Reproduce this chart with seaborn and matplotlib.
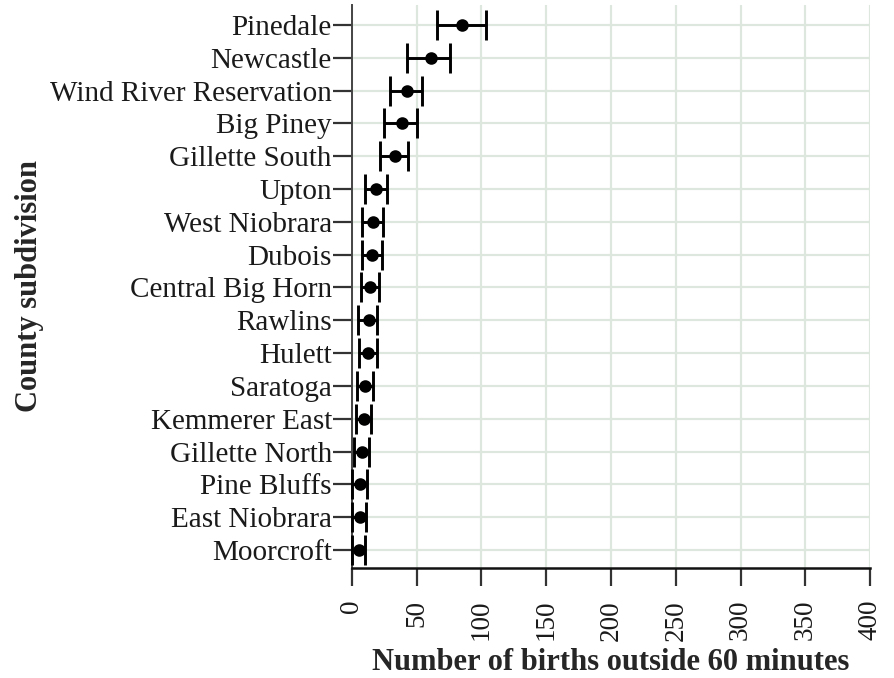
import matplotlib
matplotlib.use("Agg")
import matplotlib.pyplot as plt
import seaborn as sns
import pandas as pd

subdivisions = ["Pinedale", "Newcastle", "Wind River Reservation", "Big Piney",
                "Gillette South", "Upton", "West Niobrara", "Dubois",
                "Central Big Horn", "Rawlins", "Hulett", "Saratoga",
                "Kemmerer East", "Gillette North", "Pine Bluffs",
                "East Niobrara", "Moorcroft"]
estimate = [84.7, 60.7, 42.2, 38.9, 33.0, 18.5, 16.2, 15.4, 13.9, 12.9, 12.6,
            9.8, 9.3, 7.5, 6.2, 6.2, 5.7]
lower = [65.9, 42.5, 29.1, 24.7, 21.9, 10.0, 7.7, 7.7, 6.7, 4.6, 5.4,
         3.6, 3.1, 1.5, 0.0, 0.0, 0.0]
upper = [103.2, 75.7, 54.3, 50.0, 43.2, 26.8, 23.7, 22.9, 20.6, 19.1, 19.1,
         16.2, 14.9, 12.9, 11.3, 10.8, 9.8]
x_ticks = [0, 50, 100, 150, 200, 250, 300, 350, 400]

df = pd.DataFrame({"sub": subdivisions, "est": estimate, "lo": lower, "hi": upper})

sns.set_style("white")
plt.rcParams["font.family"] = ["Liberation Serif", "DejaVu Serif"]
plt.rcParams["text.color"] = "#1a1a1a"

fig = plt.figure(figsize=(8.95, 6.78), dpi=100)
ax = fig.add_axes([352 / 895, 1 - 568 / 678, 518 / 895, 563 / 678])

grid_c = "#dde7dd"
for xv in x_ticks:
    ax.axvline(xv, color=grid_c, lw=1.6, zorder=0)
for i in range(len(subdivisions)):
    ax.axhline(i, color=grid_c, lw=1.6, zorder=0)

ax.errorbar(df["est"], range(len(df)),
            xerr=[df["est"] - df["lo"], df["hi"] - df["est"]],
            fmt="none", ecolor="black", elinewidth=2.1, capsize=10.5,
            capthick=2.1, zorder=3, clip_on=False)
sns.pointplot(data=df, x="est", y="sub", order=subdivisions, orient="h",
              linestyle="none", errorbar=None, color="black", markers="o",
              markersize=7, ax=ax, zorder=4)

ax.set_xlim(0, 400)
ax.set_ylim(16.55, -0.61)
ax.set_xticks(x_ticks)
ax.set_xticklabels([str(v) for v in x_ticks], rotation=90, fontsize=19.5,
                   color="#1a1a1a")
ax.set_yticks(range(len(subdivisions)))
ax.set_yticklabels(subdivisions, fontsize=21, color="#1a1a1a")
ax.tick_params(axis="x", bottom=True, length=13, width=1.6, color="#333333",
               pad=10)
ax.tick_params(axis="y", left=True, length=14, width=1.6, color="#333333",
               pad=0.5)

for s in ["top", "right"]:
    ax.spines[s].set_visible(False)
ax.spines["left"].set_color("#444444")
ax.spines["left"].set_linewidth(1.4)
ax.spines["bottom"].set_color("#111111")
ax.spines["bottom"].set_linewidth(1.8)

ax.set_xlabel("Number of births outside 60 minutes", fontsize=22,
              fontweight="bold", labelpad=2)
ax.set_ylabel("County subdivision", fontsize=22, fontweight="bold")
ax.yaxis.set_label_coords(-(352 - 30) / 518, 0.5)
ax.xaxis.set_label_coords(0.5, -(662 - 568) / 563, )
ax.xaxis.label.set_va("center")
ax.yaxis.label.set_va("center")
ax.grid(False)

fig.savefig("out.png", dpi=100)
